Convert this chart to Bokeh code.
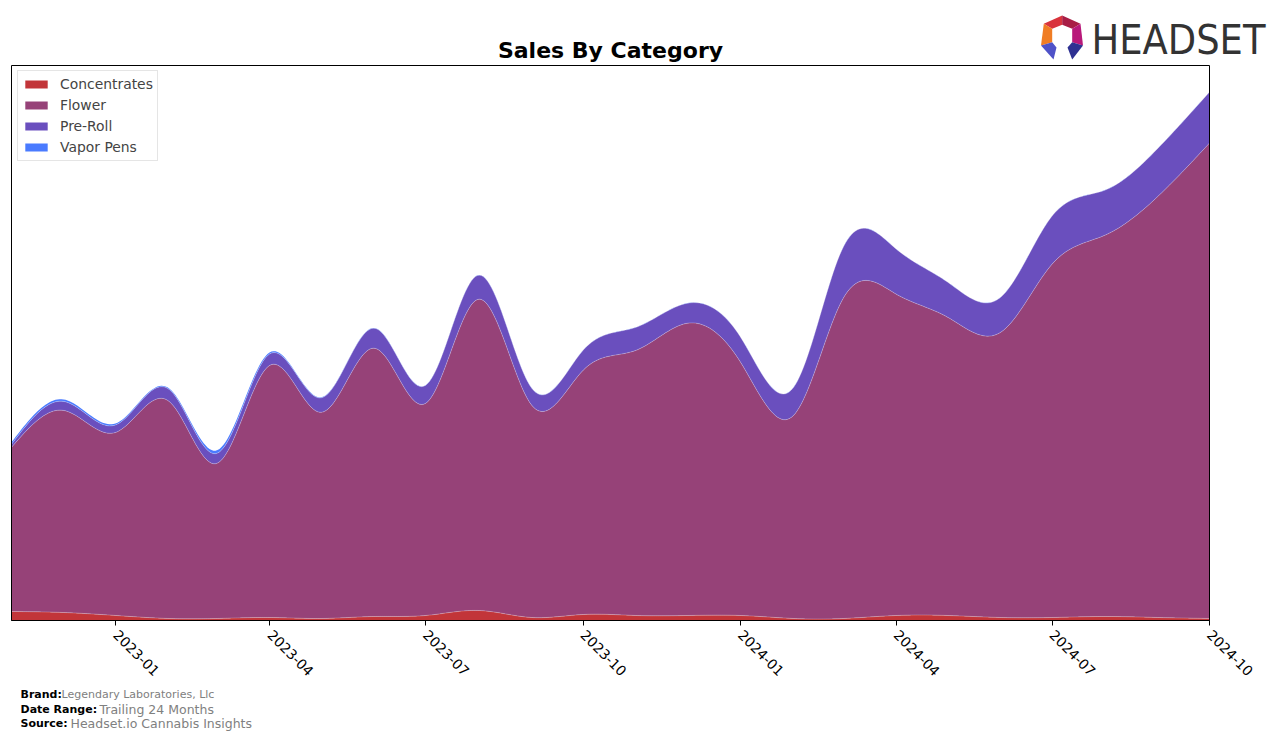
import numpy as np
import pandas as pd
from bokeh.plotting import figure
from bokeh.models import ColumnDataSource, Range1d, FixedTicker, DatetimeTickFormatter
from bokeh.core.properties import value
from bokeh.embed import file_html
from bokeh.resources import INLINE

# ---------------- data ----------------
months = ["2022-11-01", "2022-12-01", "2023-01-01", "2023-02-01", "2023-03-01", "2023-04-01",
          "2023-05-01", "2023-06-01", "2023-07-01", "2023-08-01", "2023-09-01", "2023-10-01",
          "2023-11-01", "2023-12-01", "2024-01-01", "2024-02-01", "2024-03-01", "2024-04-01",
          "2024-05-01", "2024-06-01", "2024-07-01", "2024-08-01", "2024-09-01", "2024-10-01"]
categories = ["Concentrates", "Flower", "Pre-Roll", "Vapor Pens"]
concentrates = [9, 8, 5, 2, 2, 3, 2, 4, 5, 10, 3, 6, 5, 5, 5, 2, 2, 5, 5, 3, 3, 4, 3, 2]
flower = [164, 202, 183, 217, 155, 252, 206, 268, 212, 311, 212, 244,
          265, 292, 253, 203, 320, 321, 298, 285, 353, 381, 421, 475]
preroll = [3, 9, 7.5, 12, 10, 11.5, 14.5, 20, 18, 24, 17, 20,
           23, 20, 25, 28, 51, 45, 35, 35, 48, 45, 48, 51]
vapor = [2, 2, 1.5, 1, 3, 1.5, 0.5, 0.3, 0.2, 0.2, 0.2, 0.1,
         0.1, 0.1, 0.1, 0.1, 0.1, 0.1, 0.1, 0.1, 0.1, 0.1, 0.1, 0.1]
tick_dates = ["2023-01-01", "2023-04-01", "2023-07-01", "2023-10-01",
              "2024-01-01", "2024-04-01", "2024-07-01", "2024-10-01"]
colors = ["#c23539", "#964278", "#6a4fbe", "#4a7bff"]

title_text = "Sales By Category"
footer_keys = ["Brand:", "Date Range:", "Source:"]
footer_vals = ["Legendary Laboratories, Llc", "Trailing 24 Months", "Headset.io Cannabis Insights"]
logo_text = "HEADSET"


def natural_spline(x, y, xs):
    x = np.asarray(x, float)
    y = np.asarray(y, float)
    n = len(x)
    h = np.diff(x)
    A = np.zeros((n, n))
    r = np.zeros(n)
    A[0, 0] = 1
    A[-1, -1] = 1
    for i in range(1, n - 1):
        A[i, i - 1] = h[i - 1]
        A[i, i] = 2 * (h[i - 1] + h[i])
        A[i, i + 1] = h[i]
        r[i] = 6 * ((y[i + 1] - y[i]) / h[i] - (y[i] - y[i - 1]) / h[i - 1])
    M = np.linalg.solve(A, r)
    idx = np.clip(np.searchsorted(x, xs, side="right") - 1, 0, n - 2)
    x0 = x[idx]
    x1 = x[idx + 1]
    hh = x1 - x0
    t0 = x1 - xs
    t1 = xs - x0
    return (M[idx] * t0 ** 3 / (6 * hh) + M[idx + 1] * t1 ** 3 / (6 * hh)
            + (y[idx] / hh - M[idx] * hh / 6) * t0 + (y[idx + 1] / hh - M[idx + 1] * hh / 6) * t1)


dates = pd.to_datetime(months)
days = np.array((dates - dates[0]).days, dtype=float)
xs = np.linspace(days[0], days[-1], 600)
xs_dt = dates[0] + pd.to_timedelta(xs, unit="D")

series = [concentrates, flower, preroll, vapor]
data = {"x": xs_dt}
for name, vals in zip(categories, series):
    data[name] = np.clip(natural_spline(days, vals, xs), 0, None)
data["edge1"] = data["Concentrates"]
data["edge2"] = data["Concentrates"] + data["Flower"]
data["edge3"] = data["edge2"] + data["Pre-Roll"]
src = ColumnDataSource(data)

total = sum(data[c] for c in categories)
ymax = float(total.max()) * 1.05

# ---------------- layout geometry (canvas pixels) ----------------
W, H = 1276, 741
FL, FR, FT, FB = 11, 1209, 65, 620          # plot-area box in canvas px

t0 = pd.Timestamp(dates[0]).value / 1e6
t1 = pd.Timestamp(dates[-1]).value / 1e6
sx = (t1 - t0) / (FR - FL)                   # ms per px
xr = Range1d(t0 - FL * sx, t1 + (W - FR) * sx)
sy = ymax / (FB - FT)                        # units per px
yr = Range1d(-(H - FB) * sy, ymax + FT * sy)

p = figure(width=W, height=H, x_axis_type="datetime", y_axis_location=None,
           output_backend="svg", toolbar_location=None, title=None, min_border=0,
           x_range=xr, y_range=yr)
p.extra_x_ranges = {"px": Range1d(0, W)}
p.extra_y_ranges = {"py": Range1d(H, 0)}
p.background_fill_color = "white"
p.border_fill_color = "white"
p.outline_line_color = None
p.xgrid.visible = False
p.ygrid.visible = False

p.varea_stack(stackers=categories, x="x", color=colors, legend_label=categories, source=src)
# faint light seams between the stacked layers
for col in ["edge1", "edge2", "edge3"]:
    p.line(x="x", y=col, source=src, line_color="white", line_alpha=0.25, line_width=1)

# plot-area box (spines)
p.quad(left=[dates[0]], right=[dates[-1]], bottom=[0], top=[ymax],
       fill_color=None, line_color="black", line_width=1)

tick_ms = [pd.Timestamp(d).value // 10 ** 6 for d in tick_dates]
ax = p.xaxis[0]
ax.fixed_location = 0
ax.bounds = (t0, t1)
ax.ticker = FixedTicker(ticks=tick_ms)
ax.formatter = DatetimeTickFormatter(years="%Y-%m", months="%Y-%m", days="%Y-%m",
                                     hours="%Y-%m", minutes="%Y-%m", seconds="%Y-%m",
                                     milliseconds="%Y-%m", microseconds="%Y-%m",
                                     hourmin="%Y-%m", minsec="%Y-%m")
ax.major_label_orientation = -np.pi / 4
ax.major_label_text_font = "DejaVu Sans"
ax.major_label_text_font_size = "13.9px"
ax.major_label_text_color = "black"
ax.axis_line_color = "black"
ax.major_tick_line_color = "black"
ax.major_tick_out = 5
ax.major_tick_in = 0
ax.minor_tick_line_color = None
ax.major_label_standoff = 7

lg = p.legend[0]
lg.padding = 4
lg.spacing = 3
lg.label_height = 18
lg.glyph_height = 10
lg.glyph_width = 28
lg.label_standoff = 10
lg.label_text_font = "DejaVu Sans"
lg.label_text_font_size = "13.9px"
lg.border_line_color = "#cccccc"
lg.border_line_width = 1
lg.background_fill_alpha = 0.8
lg.margin = 0
lg.location = (17, H - 161)

# ---------------- texts in canvas px ----------------
kw = dict(x_range_name="px", y_range_name="py", text_baseline="alphabetic")
p.text(x=[610], y=[50], text=[title_text], text_font=value("DejaVu Sans"),
       text_font_size=value("22px"), text_font_style="bold", text_align="center",
       text_color="black", **kw)
p.text(x=[1091], y=[39], text=[logo_text],
       text_font=value("'DejaVu Sans Condensed', 'Liberation Sans Narrow', Roboto, sans-serif"),
       text_font_size=value("41px"), text_align="left", text_color="#333333", **kw)

logo_polys = [
    ([1043.3, 1061.7, 1061.7, 1051.7], [23.3, 15, 24.3, 28.3], "#d9343c"),
    ([1061.7, 1080, 1071.7, 1061.7], [15, 23.3, 28.3, 24.3], "#a81d45"),
    ([1080, 1082.5, 1071.7, 1071.7], [23.3, 45, 41.7, 28.3], "#b8197a"),
    ([1043.3, 1051.7, 1051.7, 1040.5], [23.3, 28.3, 41.7, 45], "#f07d24"),
    ([1040.5, 1051.7, 1056, 1053], [45, 41.7, 47, 59], "#4f52c8"),
    ([1082.5, 1071.7, 1067, 1071.7], [45, 41.7, 47, 59], "#2e3192"),
]
p.patches(xs=[a for a, _, _ in logo_polys], ys=[b for _, b, _ in logo_polys],
          fill_color=[c for _, _, c in logo_polys], line_color=None,
          x_range_name="px", y_range_name="py")

p.text(x=[20, 20, 20], y=[694, 709, 723], text=footer_keys, text_font=value("DejaVu Sans"),
       text_font_size=value("11px"), text_font_style="bold", text_align="left",
       text_color="black", **kw)
p.text(x=[61], y=[694], text=[footer_vals[0]], text_font=value("DejaVu Sans"),
       text_font_size=value("11px"), text_align="left", text_color="#808080", **kw)
p.text(x=[99, 70], y=[709, 723], text=footer_vals[1:], text_font=value("DejaVu Sans"),
       text_font_size=value("12.5px"), text_align="left", text_color="#808080", **kw)

open("out.html", "w").write(file_html(p, INLINE))
